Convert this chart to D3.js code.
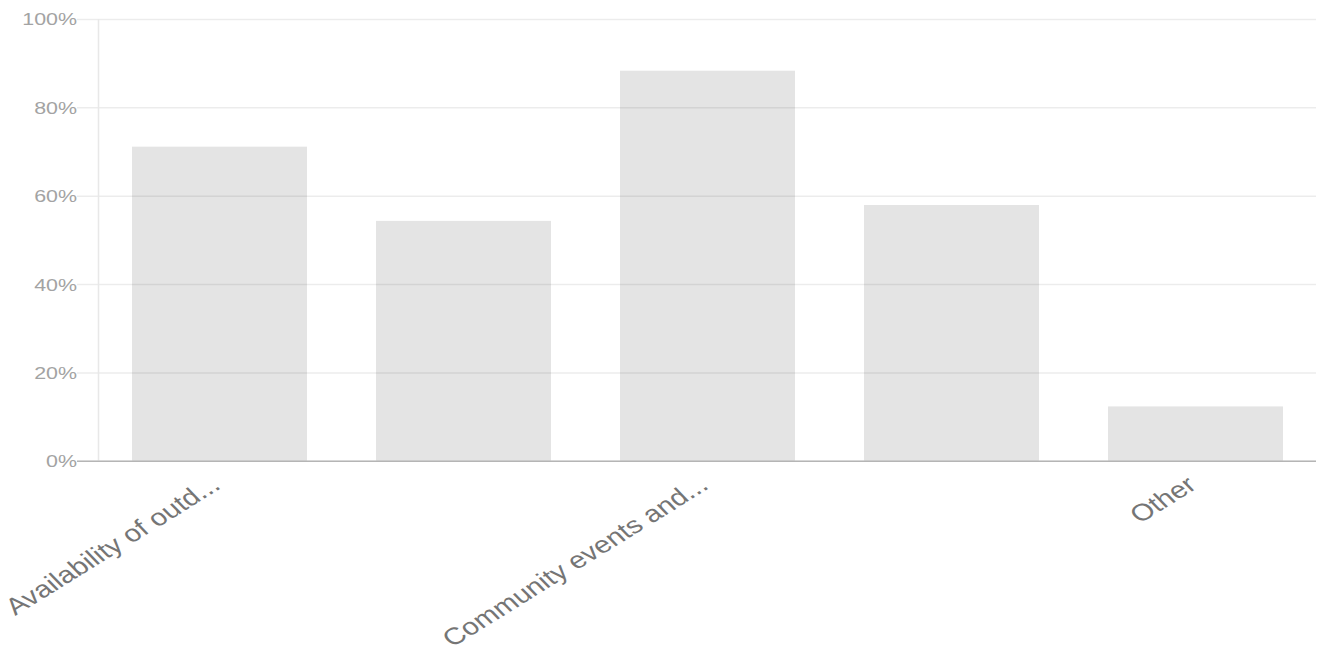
<!DOCTYPE html>
<html>
<head>
<meta charset="utf-8">
<script src="https://cdn.jsdelivr.net/npm/d3@7"></script>
<style>
  body { margin: 0; background: #fff; }
  text { font-family: "Liberation Sans", Arial, sans-serif; }
</style>
</head>
<body>
<svg id="chart" width="1325" height="652"></svg>
<script>
// survey answers, share of respondents
var categories = ["Availability of outd...", "Option 2", "Community events and...", "Option 4", "Other"];
var tickLabels = ["Availability of outd...", "", "Community events and...", "", "Other"];
var values = [0.711, 0.543, 0.883, 0.579, 0.123];
var yTicks = [0, 0.2, 0.4, 0.6, 0.8, 1];

var width = 1325, height = 652;

var svg = d3.select("svg#chart");

var x = d3.scaleBand()
    .domain(categories)
    .range([97.5, 1317.5])
    .paddingInner(0.283)
    .paddingOuter(0.1415);

var y = d3.scaleLinear()
    .domain([0, 1])
    .range([460.75, 19]);

// bars first, grid lines drawn over them
svg.append("g")
    .selectAll("rect")
    .data(values)
    .enter()
    .append("rect")
    .attr("x", function(d, i){ return x(categories[i]) })
    .attr("width", x.bandwidth())
    .attr("y", function(d){ return y(d) })
    .attr("height", function(d){ return y(0) - y(d) })
    .style("fill", "#e4e4e4");

var yAxis = d3.axisLeft(y)
    .tickValues(yTicks)
    .tickFormat(d3.format(".0%"))
    .tickSize(-(1316 - 77))
    .tickPadding(0);

var gy = svg.append("g")
    .attr("transform", "translate(77,0)")
    .call(yAxis);

gy.select(".domain").remove();
gy.selectAll(".tick line")
    .attr("x1", 0)
    .attr("x2", 1316 - 77)
    .style("stroke", "rgba(0,0,0,0.075)")
    .style("stroke-width", 1.5);
// the labels in the picture are a little wide, so stretch them sideways
gy.selectAll(".tick text")
    .attr("x", 0)
    .attr("dy", "0.35em")
    .attr("transform", "scale(1.26,1)")
    .style("font-size", "17px")
    .style("fill", "#a3a3a3");

// vertical axis line
svg.append("line")
    .attr("x1", 98.5).attr("x2", 98.5)
    .attr("y1", y(1)).attr("y2", y(0))
    .style("stroke", "#e8e8e8")
    .style("stroke-width", 1.5);

// base line
svg.append("line")
    .attr("x1", 77).attr("x2", 1316)
    .attr("y1", y(0) + 0.5).attr("y2", y(0) + 0.5)
    .style("stroke", "#b5b5b5")
    .style("stroke-width", 1.5);

var xAxis = d3.axisBottom(x)
    .tickFormat(function(d, i){ return tickLabels[i] })
    .tickSize(0);

var gx = svg.append("g")
    .attr("transform", "translate(0," + y(0) + ")")
    .call(xAxis);

gx.select(".domain").remove();
gx.selectAll(".tick text")
    .attr("y", 0)
    .attr("dy", 0)
    .attr("transform", "translate(2.5,27) scale(1.25,1) rotate(-37.8)")
    .style("text-anchor", "end")
    .style("font-size", "23.6px")
    .style("fill", "#757575");
</script>
</body>
</html>
